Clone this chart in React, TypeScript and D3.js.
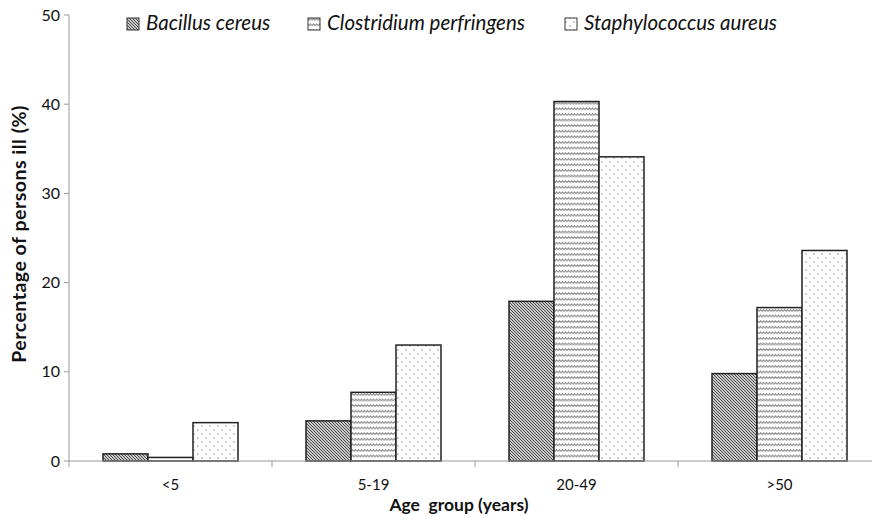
import React from "react";
import * as d3 from "d3";

const categories = ["<5", "5-19", "20-49", ">50"];
const seriesNames = ["Bacillus cereus", "Clostridium perfringens", "Staphylococcus aureus"];
const bacillus = [0.8, 4.5, 17.9, 9.8];
const clostridium = [0.4, 7.7, 40.3, 17.2];
const staph = [4.3, 13.0, 34.1, 23.6];
const yTicks = [0, 10, 20, 30, 40, 50];

const seriesValues = [bacillus, clostridium, staph];
const patternIds = ["patBC", "patCP", "patSA"];

const W = 872;
const H = 523;
const left = 69;
const right = 881;
const top = 15;
const bottom = 461;
const FONT = "Lato, 'Open Sans', sans-serif";

export default function App() {
  const x = d3.scaleBand<string>().domain(categories).range([left, right]).paddingInner(0).paddingOuter(0);
  const groupPad = 34;
  const inner = d3
    .scaleBand<number>()
    .domain([0, 1, 2])
    .range([groupPad, x.bandwidth() - groupPad])
    .padding(0);
  const y = d3.scaleLinear().domain([0, 50]).range([bottom, top]);

  const legendX = [127, 308, 565];

  return (
    <svg width={W} height={H} style={{ position: "absolute", left: 0, top: 0, background: "#fff" }} fontFamily={FONT}>
      <defs>
        <pattern id="patBC" width={3} height={3} patternUnits="userSpaceOnUse">
          <rect width={3} height={3} fill="#fff" />
          <path d="M-1,-1 L4,4 M-1,2 L1,4 M2,-1 L4,1" stroke="#444" strokeWidth={1.1} />
        </pattern>
        <pattern id="patCP" width={3} height={5.6} patternUnits="userSpaceOnUse">
          <rect width={3} height={5.6} fill="#fff" />
          <path d="M0,3.2 L1.5,1.6 L3,3.2" stroke="#777" strokeWidth={1} fill="none" />
          <path d="M0,2.6 L1.5,4" stroke="#999" strokeWidth={0.7} fill="none" />
        </pattern>
        <pattern id="patSA" width={8} height={8} patternUnits="userSpaceOnUse">
          <rect width={8} height={8} fill="#fff" />
          <circle cx={2} cy={2} r={0.7} fill="#777" />
          <circle cx={6} cy={6} r={0.7} fill="#777" />
        </pattern>
      </defs>

      {/* Bars */}
      {categories.map((c, ci) =>
        seriesValues.map((vals, si) => {
          const x0 = (x(c) as number) + (inner(si) as number);
          const y0 = y(vals[ci]);
          return (
            <rect
              key={c + si}
              x={x0}
              y={y0}
              width={inner.bandwidth()}
              height={bottom - y0}
              fill={`url(#${patternIds[si]})`}
              stroke="#222"
              strokeWidth={1.5}
            />
          );
        })
      )}

      {/* Y axis */}
      <line x1={left} x2={left} y1={top} y2={bottom} stroke="#999" strokeWidth={1} />
      {yTicks.map((t) => (
        <g key={t}>
          <line x1={left - 5} x2={left} y1={y(t)} y2={y(t)} stroke="#999" strokeWidth={1} />
          <text x={left - 9} y={y(t)} dy="0.35em" textAnchor="end" fontSize={16} fill="#111">
            {t}
          </text>
        </g>
      ))}

      {/* X axis */}
      <line x1={left} x2={right} y1={bottom} y2={bottom} stroke="#999" strokeWidth={1} />
      {categories.map((c) => (
        <g key={c}>
          <line x1={x(c) as number} x2={x(c) as number} y1={bottom} y2={bottom + 6} stroke="#999" strokeWidth={1} />
          <text x={(x(c) as number) + x.bandwidth() / 2} y={485} dy="0.35em" textAnchor="middle" fontSize={15} fill="#111">
            {c}
          </text>
        </g>
      ))}

      {/* Axis titles */}
      <text x={459} y={511} textAnchor="middle" fontSize={17.5} fontWeight="bold" fill="#111" style={{ whiteSpace: "pre" }}>
        {"Age  group (years)"}
      </text>
      <text
        transform={`translate(19,234) rotate(-90)`}
        dy="0.35em"
        textAnchor="middle"
        fontSize={19.5}
        letterSpacing={0.5}
        fontWeight="bold"
        fill="#111"
      >
        Percentage of persons ill (%)
      </text>

      {/* Legend */}
      {seriesNames.map((n, i) => (
        <g key={n}>
          <rect x={legendX[i]} y={18} width={12} height={12} fill={`url(#${patternIds[i]})`} stroke="#333" strokeWidth={1} />
          <text x={legendX[i] + 19} y={23} dy="0.35em" fontSize={20.5} fontStyle="italic" fill="#111">
            {n}
          </text>
        </g>
      ))}
    </svg>
  );
}
